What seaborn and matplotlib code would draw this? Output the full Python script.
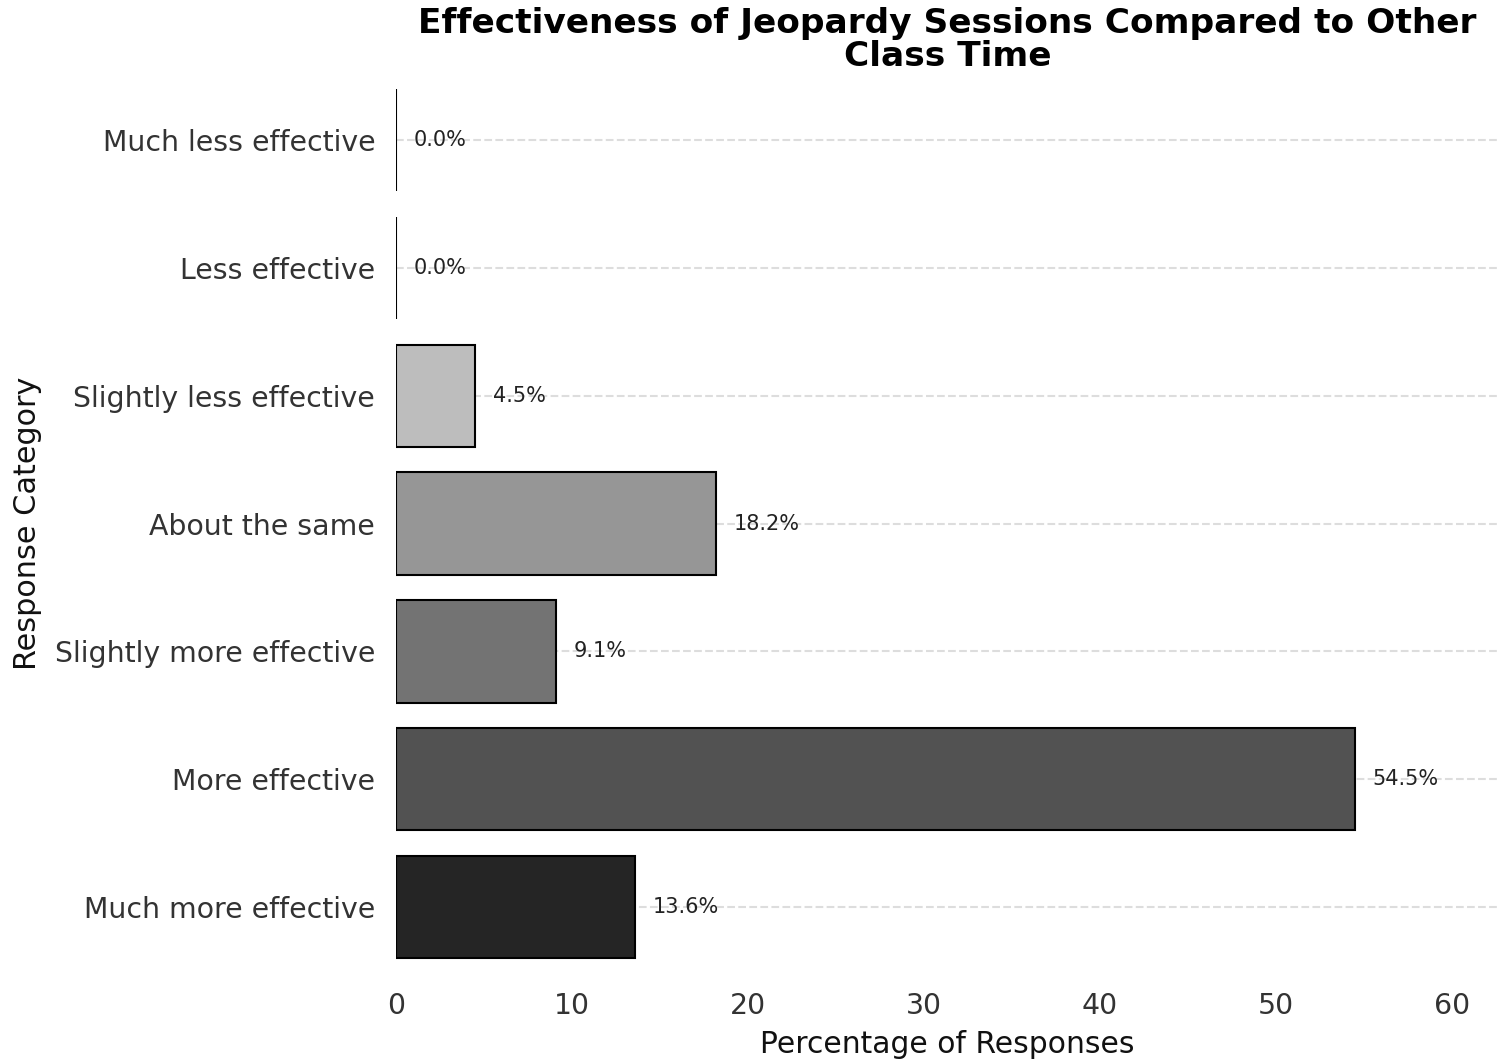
import matplotlib
matplotlib.use("Agg")
import matplotlib.pyplot as plt
import seaborn as sns
import pandas as pd

categories = [
    "Much less effective",
    "Less effective",
    "Slightly less effective",
    "About the same",
    "Slightly more effective",
    "More effective",
    "Much more effective",
]
percentages = [0.0, 0.0, 4.5, 18.2, 9.1, 54.5, 13.6]
bar_colors = ["#f7f7f7", "#d9d9d9", "#bdbdbd", "#969696", "#737373", "#525252", "#252525"]

df = pd.DataFrame({"Response Category": categories, "Percentage": percentages})

sns.set_theme(style="white")
plt.rcParams["font.family"] = ["DejaVu Sans"]

fig, ax = plt.subplots(figsize=(10.0067, 7.06), dpi=150)
fig.subplots_adjust(left=0.2638, right=0.9987, bottom=0.0831, top=0.9282)

sns.barplot(
    data=df, x="Percentage", y="Response Category", hue="Response Category",
    order=categories, hue_order=categories, palette=bar_colors,
    edgecolor="black", linewidth=1.0, legend=False, ax=ax, width=0.8,
)

for i, v in enumerate(percentages):
    ax.text(v + 1, i, f"{v:.1f}%", va="center", ha="left", fontsize=10, color="#222222")

ax.set_xlim(0, max(percentages) * 1.15)
ax.grid(axis="y", linestyle="--", color="#dddddd", linewidth=1.0)
ax.grid(axis="x", visible=False)
ax.set_axisbelow(True)
for s in ax.spines.values():
    s.set_visible(False)

ax.tick_params(axis="both", length=0, labelsize=13.6, colors="#333333", pad=10)
ax.set_xlabel("Percentage of Responses", fontsize=14.3, color="#111111", labelpad=5)
ax.set_ylabel("Response Category", fontsize=14.5, color="#111111", labelpad=6)
ax.set_title("Effectiveness of Jeopardy Sessions Compared to Other\nClass Time",
             fontsize=16.5, fontweight="bold", color="black", linespacing=0.98, pad=5)

fig.savefig("out.png", dpi=150)
